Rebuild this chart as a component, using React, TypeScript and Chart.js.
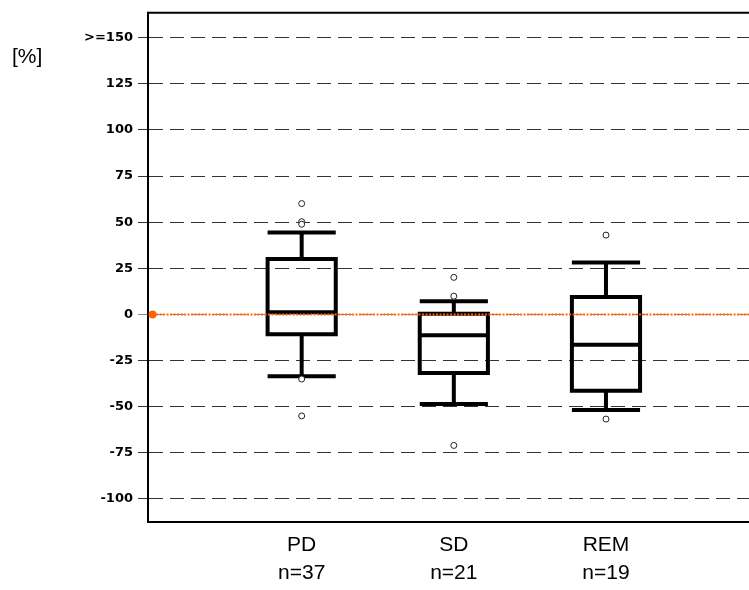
import { useEffect, useRef } from 'react';
import { Chart, registerables } from 'chart.js';

Chart.register(...registerables);

// Groups and their sample sizes
const categories = ['PD', 'SD', 'REM'];
const sampleSizes = [37, 21, 19];

// Five-number summaries per group (percent change)
const whiskerHigh = [44.4, 7.2, 28.2];
const quartile3 = [30.0, 0.4, 9.4];
const medians = [1.2, -11.3, -16.4];
const quartile1 = [-10.8, -31.7, -41.4];
const whiskerLow = [-33.5, -48.6, -51.8];

// Points beyond the whiskers
const outliersPD = [60.1, 50.3, 48.9, -35.0, -55.0];
const outliersSD = [20.1, 9.9, -71.0];
const outliersREM = [43.0, -56.7];

// Y axis ticks
const yTickValues = [150, 125, 100, 75, 50, 25, 0, -25, -50, -75, -100];

// Zero reference line
const baselineX = [0.02, 3.94];
const baselineY = [0, 0];

const X_MIN = -0.01;
const X_MAX = 3.94;
const Y_MIN = -112.5;
const Y_MAX = 163.5;
const BOX_HALF_WIDTH = 0.224;

const boxPlotPlugin = {
  id: 'boxPlots',
  beforeDatasetsDraw(chart: any) {
    const { ctx, scales } = chart;
    const x = scales.x;
    const y = scales.y;
    ctx.save();
    ctx.strokeStyle = '#000';
    ctx.lineWidth = 4;
    ctx.lineCap = 'butt';
    categories.forEach((_, i) => {
      const pos = i + 1;
      const cx = x.getPixelForValue(pos);
      const left = x.getPixelForValue(pos - BOX_HALF_WIDTH);
      const right = x.getPixelForValue(pos + BOX_HALF_WIDTH);
      const yHi = y.getPixelForValue(whiskerHigh[i]);
      const yQ3 = y.getPixelForValue(quartile3[i]);
      const yMed = y.getPixelForValue(medians[i]);
      const yQ1 = y.getPixelForValue(quartile1[i]);
      const yLo = y.getPixelForValue(whiskerLow[i]);

      ctx.beginPath();
      // box
      ctx.rect(left, yQ3, right - left, yQ1 - yQ3);
      // median
      ctx.moveTo(left, yMed);
      ctx.lineTo(right, yMed);
      // whiskers
      ctx.moveTo(cx, yQ3);
      ctx.lineTo(cx, yHi);
      ctx.moveTo(cx, yQ1);
      ctx.lineTo(cx, yLo);
      // caps
      ctx.moveTo(left, yHi);
      ctx.lineTo(right, yHi);
      ctx.moveTo(left, yLo);
      ctx.lineTo(right, yLo);
      ctx.stroke();
    });
    ctx.restore();
  },
};

const framePlugin = {
  id: 'frameAndUnit',
  afterDraw(chart: any) {
    const { ctx, chartArea } = chart;
    ctx.save();
    ctx.strokeStyle = '#000';
    ctx.lineWidth = 2;
    ctx.beginPath();
    ctx.moveTo(chartArea.left - 1, chartArea.top);
    ctx.lineTo(chartArea.right, chartArea.top);
    ctx.stroke();

    ctx.fillStyle = '#000';
    ctx.font = '21px "Liberation Sans", Arial, sans-serif';
    ctx.textAlign = 'left';
    ctx.textBaseline = 'middle';
    ctx.fillText('[%]', 12, 57);
    ctx.restore();
  },
};

export default function App() {
  const canvasRef = useRef<HTMLCanvasElement>(null);

  useEffect(() => {
    if (!canvasRef.current) return;
    const outlierPoints = [
      ...outliersPD.map((v) => ({ x: 1, y: v })),
      ...outliersSD.map((v) => ({ x: 2, y: v })),
      ...outliersREM.map((v) => ({ x: 3, y: v })),
    ];
    const baselinePoints = baselineX.map((xv, i) => ({ x: xv, y: baselineY[i] }));

    const chart = new Chart(canvasRef.current, {
      type: 'scatter',
      data: {
        datasets: [
          {
            type: 'line',
            label: 'zero',
            data: baselinePoints,
            borderColor: '#ff6600',
            borderWidth: 2,
            borderDash: [2, 1.5],
            pointRadius: [4, 0],
            pointBackgroundColor: '#ff6600',
            pointBorderColor: '#ff6600',
            pointBorderWidth: 0,
            fill: false,
            order: 0,
          } as any,
          {
            type: 'scatter',
            label: 'outliers',
            data: outlierPoints,
            pointRadius: 3,
            pointBackgroundColor: '#fff',
            pointBorderColor: '#222',
            pointBorderWidth: 1,
            order: 1,
          },
        ],
      },
      options: {
        animation: false,
        responsive: true,
        maintainAspectRatio: false,
        layout: { autoPadding: false, padding: { top: 11, right: 0, bottom: 0, left: 0 } },
        plugins: {
          legend: { display: false },
          tooltip: { enabled: false },
        },
        scales: {
          x: {
            type: 'linear',
            min: X_MIN,
            max: X_MAX,
            grid: { display: false, drawTicks: false, tickLength: 0 },
            border: { display: true, color: '#000', width: 2 },
            afterBuildTicks: (axis: any) => {
              axis.ticks = categories.map((_, i) => ({ value: i + 1 }));
            },
            afterFit: (axis: any) => {
              axis.height = 68;
            },
            ticks: {
              autoSkip: false,
              maxRotation: 0,
              padding: 9,
              color: '#000',
              font: { family: '"Liberation Sans", Arial, sans-serif', size: 21, lineHeight: 1.33 },
              callback: (value: any) => {
                const i = Number(value) - 1;
                return [categories[i], 'n=' + sampleSizes[i]];
              },
            },
          },
          y: {
            type: 'linear',
            min: Y_MIN,
            max: Y_MAX,
            grid: {
              color: (ctx: any) => (ctx.tick && ctx.tick.value === 0 ? '#888' : '#333'),
              lineWidth: 1,
              tickLength: 10,
              tickColor: (ctx: any) => (ctx.tick && ctx.tick.value === 0 ? '#888' : '#333'),
              tickWidth: 1,
            },
            border: { display: true, color: '#000', width: 2, dash: [14, 7] },
            afterBuildTicks: (axis: any) => {
              axis.ticks = yTickValues.map((v) => ({ value: v }));
            },
            afterFit: (axis: any) => {
              axis.width = 148;
            },
            ticks: {
              padding: 5,
              color: '#000',
              font: { family: '"DejaVu Sans", sans-serif', size: 13, weight: 'bold' },
              callback: (value: any) => (Number(value) === 150 ? '>=150' : String(value)),
            },
          },
        },
      },
      plugins: [boxPlotPlugin, framePlugin],
    });
    return () => chart.destroy();
  }, []);

  return (
    <div style={{ position: 'fixed', left: 0, top: 0, width: 749, height: 590 }}>
      <canvas ref={canvasRef} />
    </div>
  );
}
